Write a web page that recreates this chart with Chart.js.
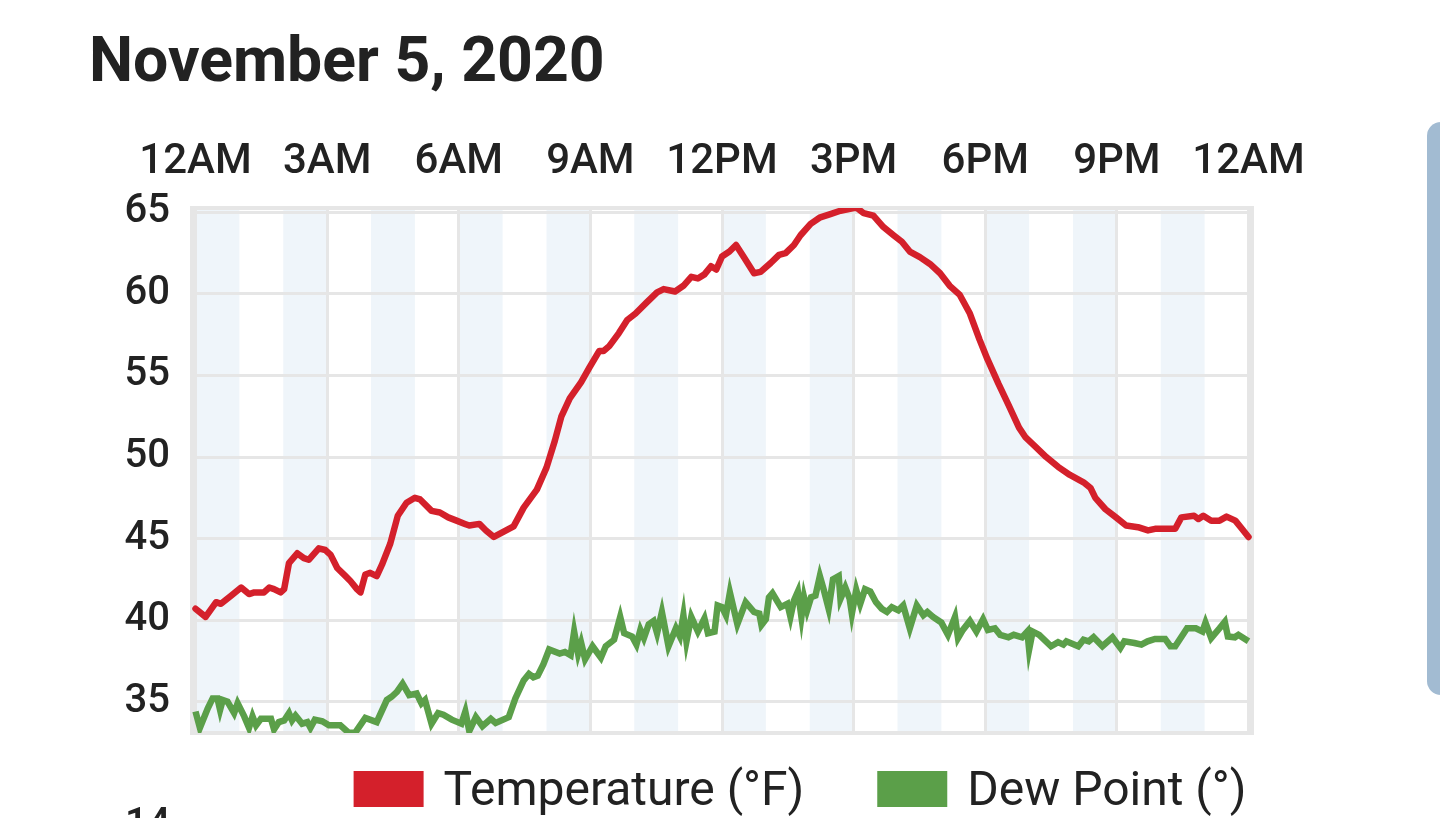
<!DOCTYPE html>
<html>
<head>
<meta charset="utf-8">
<script src="https://cdn.jsdelivr.net/npm/chart.js@4.4.1/dist/chart.umd.min.js"></script>
<style>
  html, body { margin: 0; padding: 0; background: #ffffff; overflow: hidden; }
  body { width: 1440px; height: 818px; position: relative; font-family: Roboto, "Noto Sans", sans-serif; }
  #title { position: absolute; left: 89px; top: 29px; font: 700 62.5px/1 Roboto, sans-serif; color: #222222; white-space: nowrap; }
  #wrap { position: absolute; left: 0; top: 0; width: 1440px; height: 818px; }
  #panel { position: absolute; left: 1427px; top: 122px; width: 40px; height: 573px; background: #a2bbd2; border-radius: 14px; }
  #next { position: absolute; left: 125px; top: 803px; font: 500 40px/1 Roboto, sans-serif; color: #222222; }
</style>
</head>
<body>
<div id="title">November 5, 2020</div>
<div id="wrap"><canvas id="c" width="1440" height="818"></canvas></div>
<div id="panel"></div>
<div id="next">14</div>
<script>
// ---------- data ----------
const xTickValues = [0, 3, 6, 9, 12, 15, 18, 21, 24];
const xTickLabels = ['12AM', '3AM', '6AM', '9AM', '12PM', '3PM', '6PM', '9PM', '12AM'];
const yTickValues = [35, 40, 45, 50, 55, 60, 65];
const shadedHours = [0, 2, 4, 6, 8, 10, 12, 14, 16, 18, 20, 22];

const tempHours = [0.00,0.23,0.47,0.58,0.81,1.04,1.22,1.34,1.56,1.68,1.79,1.94,2.02,2.13,2.32,2.47,2.58,2.81,2.96,3.08,3.23,3.42,3.53,3.68,3.76,3.87,3.98,4.13,4.25,4.44,4.61,4.81,5.00,5.12,5.38,5.57,5.76,5.95,6.14,6.24,6.47,6.62,6.80,7.25,7.48,7.78,8.00,8.19,8.34,8.53,8.79,8.98,9.20,9.30,9.43,9.65,9.84,10.03,10.29,10.52,10.67,10.93,11.12,11.30,11.45,11.60,11.75,11.87,12.00,12.17,12.32,12.50,12.73,12.88,13.11,13.30,13.45,13.64,13.79,14.02,14.24,14.47,14.70,14.89,15.06,15.23,15.45,15.68,15.91,16.10,16.28,16.51,16.74,16.97,17.19,17.42,17.65,17.87,18.05,18.30,18.53,18.77,18.92,19.16,19.39,19.66,19.93,20.24,20.40,20.51,20.74,20.98,21.21,21.48,21.71,21.87,22.33,22.47,22.76,22.86,22.97,23.15,23.34,23.50,23.70,23.85,24.00];
const tempValues = [40.7,40.2,41.1,41.0,41.5,42.0,41.6,41.7,41.7,42.0,41.9,41.7,41.9,43.5,44.1,43.8,43.7,44.4,44.3,44.0,43.2,42.7,42.4,41.9,41.7,42.8,42.9,42.7,43.4,44.7,46.4,47.2,47.5,47.4,46.7,46.6,46.3,46.1,45.9,45.8,45.9,45.5,45.1,45.75,46.9,48.0,49.35,51.0,52.5,53.6,54.6,55.5,56.5,56.5,56.8,57.6,58.4,58.8,59.5,60.1,60.3,60.15,60.5,61.05,60.95,61.2,61.7,61.5,62.3,62.6,63.0,62.25,61.27,61.35,61.9,62.4,62.5,63.0,63.6,64.3,64.7,64.9,65.1,65.2,65.3,64.95,64.8,64.1,63.6,63.2,62.6,62.26,61.84,61.27,60.5,59.94,58.8,57.2,56.0,54.5,53.2,51.8,51.2,50.6,50.0,49.4,48.9,48.45,48.1,47.5,46.8,46.3,45.8,45.7,45.5,45.6,45.6,46.3,46.4,46.2,46.4,46.1,46.1,46.35,46.1,45.6,45.1];

const dewHours = [0.00,0.10,0.28,0.39,0.50,0.56,0.62,0.73,0.88,0.96,1.11,1.22,1.30,1.38,1.49,1.72,1.79,1.90,2.02,2.13,2.20,2.28,2.43,2.55,2.62,2.72,2.89,3.04,3.30,3.49,3.64,3.87,4.13,4.36,4.47,4.59,4.72,4.87,5.04,5.15,5.23,5.38,5.53,5.65,5.84,6.06,6.15,6.24,6.39,6.54,6.73,6.84,7.14,7.29,7.48,7.60,7.70,7.80,7.93,8.06,8.30,8.42,8.55,8.63,8.72,8.79,8.88,9.05,9.24,9.35,9.54,9.68,9.77,9.95,10.05,10.14,10.22,10.33,10.44,10.52,10.63,10.78,10.95,11.04,11.12,11.19,11.30,11.45,11.60,11.68,11.83,11.90,12.00,12.09,12.18,12.35,12.54,12.73,12.85,12.90,13.00,13.07,13.15,13.34,13.49,13.56,13.64,13.73,13.81,13.87,13.94,14.03,14.13,14.23,14.32,14.43,14.53,14.66,14.70,14.81,14.91,14.96,15.06,15.15,15.26,15.38,15.51,15.64,15.76,15.87,16.02,16.13,16.28,16.44,16.59,16.68,16.81,17.00,17.15,17.31,17.38,17.49,17.65,17.80,17.95,18.06,18.22,18.34,18.53,18.65,18.84,18.96,19.00,19.08,19.23,19.50,19.66,19.78,19.85,20.12,20.24,20.36,20.47,20.67,20.90,21.08,21.17,21.40,21.56,21.70,21.87,22.10,22.22,22.33,22.60,22.80,22.95,23.02,23.15,23.34,23.46,23.53,23.69,23.77,24.00];
const dewValues = [34.4,33.4,34.6,35.2,35.2,34.5,35.1,35.0,34.3,34.9,34.1,33.4,34.1,33.55,33.95,33.95,33.3,33.75,33.85,34.3,33.85,34.15,33.65,33.75,33.4,33.9,33.8,33.55,33.55,33.1,33.1,34.0,33.75,35.1,35.3,35.6,36.1,35.4,35.5,34.9,35.1,33.65,34.3,34.2,33.9,33.65,34.4,33.2,34.05,33.5,33.95,33.7,34.05,35.2,36.3,36.7,36.5,36.6,37.3,38.2,37.95,38.05,37.85,39.3,37.95,38.6,37.6,38.4,37.7,38.4,38.8,40.2,39.2,39.0,38.5,39.4,38.9,39.75,39.95,39.2,40.5,38.4,39.5,39.0,40.3,38.7,40.2,39.3,40.1,39.2,39.3,40.9,40.8,40.3,41.7,39.75,41.1,40.5,40.4,39.7,40.05,41.4,41.65,40.8,41.0,40.2,41.2,41.75,40.2,41.4,40.6,41.4,41.5,42.7,41.85,40.7,42.5,42.7,41.3,42.0,41.3,40.4,41.85,41.0,41.9,41.75,41.1,40.7,40.5,40.8,40.6,40.9,39.5,40.9,40.3,40.5,40.2,39.85,39.1,40.2,38.9,39.4,39.95,39.3,40.05,39.4,39.5,39.1,38.95,39.1,38.95,39.3,38.2,39.3,39.1,38.4,38.65,38.5,38.7,38.4,38.8,38.7,38.95,38.4,38.95,38.3,38.7,38.6,38.5,38.7,38.85,38.85,38.4,38.4,39.5,39.5,39.3,39.85,38.9,39.5,39.9,39.0,38.95,39.1,38.7];

// ---------- chart ----------
const TEXT = '#222222';
const GRID = '#e6e6e6';
const toPoints = (xs, ys) => xs.map((h, i) => ({x: h, y: ys[i]}));

const bandsPlugin = {
  id: 'hourBands',
  beforeDraw(chart) {
    const {ctx, chartArea: a, scales: {x}} = chart;
    ctx.save();
    ctx.fillStyle = '#eff5fa';
    shadedHours.forEach(h => {
      const x0 = x.getPixelForValue(h);
      const x1 = x.getPixelForValue(h + 1);
      ctx.fillRect(x0, a.top, x1 - x0, a.bottom - a.top);
    });
    ctx.restore();
  },
  beforeDatasetsDraw(chart) {
    const {ctx, chartArea: a} = chart;
    ctx.save();
    ctx.strokeStyle = GRID;
    ctx.lineWidth = 4;
    ctx.strokeRect(a.left, a.top, a.right - a.left, a.bottom - a.top);
    ctx.restore();
  }
};

const legendPlugin = {
  id: 'bottomLegend',
  afterDraw(chart) {
    const {ctx, chartArea: a} = chart;
    const boxW = 70, boxH = 36, textGap = 20, itemGap = 73, centerX = 800;
    ctx.save();
    ctx.font = '400 48px Roboto';
    ctx.textBaseline = 'middle';
    ctx.textAlign = 'left';
    const items = chart.data.datasets.map(d => {
      const tw = ctx.measureText(d.label).width;
      return {label: d.label, color: d.borderColor, w: boxW + textGap + tw};
    });
    const total = items.reduce((s, it) => s + it.w, 0) + itemGap * (items.length - 1);
    let cx = centerX - total / 2;
    const yMid = a.bottom + 56;
    items.forEach(it => {
      ctx.fillStyle = it.color;
      ctx.fillRect(cx, yMid - boxH / 2, boxW, boxH);
      ctx.fillStyle = TEXT;
      ctx.fillText(it.label, cx + boxW + textGap, yMid + 4);
      cx += it.w + itemGap;
    });
    ctx.restore();
  }
};

Chart.defaults.font.family = 'Roboto';
Chart.defaults.color = TEXT;

new Chart(document.getElementById('c'), {
  type: 'line',
  data: {
    datasets: [
      {
        label: 'Temperature (°F)',
        data: toPoints(tempHours, tempValues),
        borderColor: '#d4202b',
        backgroundColor: '#d4202b',
        borderWidth: 6.5,
        pointRadius: 0,
        tension: 0,
        borderJoinStyle: 'round',
        borderCapStyle: 'round'
      },
      {
        label: 'Dew Point (°)',
        data: toPoints(dewHours, dewValues),
        borderColor: '#5b9f49',
        backgroundColor: '#5b9f49',
        borderWidth: 6.5,
        pointRadius: 0,
        tension: 0,
        borderJoinStyle: 'miter',
        borderCapStyle: 'butt'
      }
    ]
  },
  options: {
    responsive: false,
    animation: false,
    events: [],
    layout: { autoPadding: false, padding: { left: 0, top: 0, right: 188, bottom: 85 } },
    plugins: { legend: { display: false }, tooltip: { enabled: false }, title: { display: false } },
    scales: {
      x: {
        type: 'linear',
        position: 'top',
        min: -0.08,
        max: 24.08,
        afterFit(scale) { scale.height = 208; },
        afterBuildTicks(scale) { scale.ticks = xTickValues.map(v => ({value: v})); },
        ticks: {
          autoSkip: false,
          maxRotation: 0,
          padding: 20,
          color: TEXT,
          font: { size: 42, family: 'Roboto', weight: '500' },
          callback: (v) => xTickLabels[xTickValues.indexOf(v)]
        },
        grid: { color: GRID, lineWidth: 3, drawTicks: false },
        border: { display: false }
      },
      y: {
        type: 'linear',
        position: 'left',
        min: 33.08,
        max: 65.27,
        afterFit(scale) { scale.width = 192; },
        afterBuildTicks(scale) { scale.ticks = yTickValues.map(v => ({value: v})); },
        ticks: {
          padding: 22,
          color: TEXT,
          font: { size: 40, family: 'Roboto', weight: '500' },
          callback: (v) => String(v)
        },
        grid: { color: GRID, lineWidth: 3, drawTicks: false },
        border: { display: false }
      }
    }
  },
  plugins: [bandsPlugin, legendPlugin]
});
</script>
</body>
</html>
